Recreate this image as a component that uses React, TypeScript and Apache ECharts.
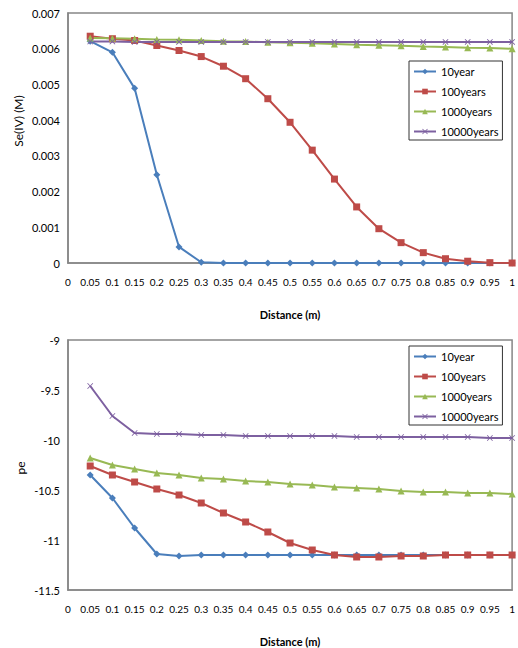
import React, { useEffect, useRef } from "react";
import * as echarts from "echarts";

const distances = [0.05, 0.1, 0.15, 0.2, 0.25, 0.3, 0.35, 0.4, 0.45, 0.5, 0.55, 0.6, 0.65, 0.7, 0.75, 0.8, 0.85, 0.9, 0.95, 1];
const seriesNames = ["10year", "100years", "1000years", "10000years"];

// Top chart: Se(IV) (M)
const se10 = [0.00621, 0.0059, 0.00489, 0.00247, 0.00045, 0.00002, 0, 0, 0, 0, 0, 0, 0, 0, 0, 0, 0, 0, 0, 0];
const se100 = [0.00635, 0.00628, 0.00623, 0.00609, 0.00595, 0.00578, 0.00551, 0.00516, 0.0046, 0.00394, 0.00316, 0.00235, 0.00157, 0.00096, 0.00057, 0.00029, 0.00012, 0.00005, 0.00001, 0];
const se1000 = [0.0063, 0.00629, 0.00628, 0.00626, 0.00625, 0.00623, 0.00621, 0.0062, 0.00618, 0.00617, 0.00615, 0.00613, 0.00611, 0.0061, 0.00608, 0.00606, 0.00605, 0.00603, 0.00602, 0.006];
const se10000 = [0.0062, 0.0062, 0.00619, 0.00619, 0.00619, 0.00619, 0.00619, 0.00619, 0.00619, 0.00619, 0.00619, 0.00619, 0.00619, 0.00619, 0.00619, 0.00619, 0.00619, 0.00619, 0.00619, 0.00619];

// Bottom chart: pe
const pe10 = [-10.35, -10.58, -10.88, -11.14, -11.16, -11.15, -11.15, -11.15, -11.15, -11.15, -11.15, -11.15, -11.15, -11.15, -11.15, -11.15, -11.15, -11.15, -11.15, -11.15];
const pe100 = [-10.26, -10.35, -10.42, -10.49, -10.55, -10.63, -10.73, -10.82, -10.92, -11.03, -11.1, -11.15, -11.17, -11.17, -11.16, -11.16, -11.15, -11.15, -11.15, -11.15];
const pe1000 = [-10.18, -10.25, -10.29, -10.33, -10.35, -10.38, -10.39, -10.41, -10.42, -10.44, -10.45, -10.47, -10.48, -10.49, -10.51, -10.52, -10.52, -10.53, -10.53, -10.54];
const pe10000 = [-9.46, -9.76, -9.93, -9.94, -9.94, -9.95, -9.95, -9.96, -9.96, -9.96, -9.96, -9.96, -9.97, -9.97, -9.97, -9.97, -9.97, -9.97, -9.98, -9.98];

const colors = ["#4A7EBB", "#BE4B48", "#98B954", "#7D60A0"];
const xMark = "path://M0,1L1,0L5,4L9,0L10,1L6,5L10,9L9,10L5,6L1,10L0,9L4,5Z";
const symbols = ["diamond", "rect", "triangle", xMark];
const symbolSizes = [7, 7, 7, 6];

const FONT = "Lato";

function pairs(vals: number[]) {
  return distances.map((d, i) => [d, vals[i]]);
}

export default function App() {
  const ref = useRef<HTMLDivElement>(null);
  useEffect(() => {
    if (!ref.current) return;
    const chart = echarts.init(ref.current, undefined, { renderer: "svg" });

    const mkSeries = (dataSets: number[][], gridIdx: number) =>
      dataSets.map((vals, i) => ({
        name: seriesNames[i],
        type: "line",
        xAxisIndex: gridIdx,
        yAxisIndex: gridIdx,
        data: pairs(vals),
        symbol: symbols[i],
        symbolSize: symbolSizes[i],
        showAllSymbol: true,
        lineStyle: { color: colors[i], width: 2 },
        itemStyle: { color: colors[i] },
      }));

    const xAxisCommon = {
      type: "value",
      min: 0,
      max: 1,
      interval: 0.05,
      splitLine: { show: false },
      axisTick: { show: false },
      axisLine: { show: true, onZero: false, lineStyle: { color: "#868686", width: 1.5 } },
      axisLabel: { color: "#000", fontSize: 10, fontFamily: FONT, margin: 14 },
      name: "Distance (m)",
      nameLocation: "middle",
      nameTextStyle: { color: "#000", fontSize: 11, fontWeight: "bold", fontFamily: FONT },
    };

    const legendCommon = {
      orient: "vertical",
      left: 409,
      borderColor: "#333",
      borderWidth: 1,
      padding: [5, 4, 3, 4],
      itemWidth: 22,
      itemHeight: 7,
      itemGap: 9,
      textStyle: { color: "#000", fontSize: 11, fontFamily: FONT },
      data: seriesNames,
    };

    chart.setOption({
      animation: false,
      backgroundColor: "#fff",
      grid: [
        { left: 68, top: 13, width: 445, height: 250, show: true, borderColor: "#868686", borderWidth: 1.5, backgroundColor: "transparent" },
        { left: 68, top: 340, width: 445, height: 252, show: true, borderColor: "#868686", borderWidth: 1.5, backgroundColor: "transparent" },
      ],
      xAxis: [
        { ...xAxisCommon, gridIndex: 0, nameGap: 46 },
        { ...xAxisCommon, gridIndex: 1, nameGap: 46 },
      ],
      yAxis: [
        {
          type: "value",
          gridIndex: 0,
          min: 0,
          max: 0.007,
          interval: 0.001,
          splitLine: { show: false },
          axisTick: { show: false },
          axisLine: { show: true, lineStyle: { color: "#868686", width: 1.5 } },
          axisLabel: { color: "#000", fontSize: 11, fontFamily: FONT, margin: 8 },
        },
        {
          type: "value",
          gridIndex: 1,
          min: -11.5,
          max: -9,
          interval: 0.5,
          splitLine: { show: false },
          axisTick: { show: false },
          axisLine: { show: true, onZero: false, lineStyle: { color: "#868686", width: 1.5 } },
          axisLabel: { color: "#000", fontSize: 11, fontFamily: FONT, margin: 8 },
        },
      ],
      legend: [
        { ...legendCommon, top: 61 },
        { ...legendCommon, top: 346 },
      ],
      graphic: [
        {
          type: "text",
          x: 18,
          y: 121,
          rotation: Math.PI / 2,
          style: { text: "Se(IV) (M)", fill: "#000", font: `12px ${FONT}`, align: "center", verticalAlign: "middle" },
        },
        {
          type: "text",
          x: 20,
          y: 468,
          rotation: Math.PI / 2,
          style: { text: "pe", fill: "#000", font: `12px ${FONT}`, align: "center", verticalAlign: "middle" },
        },
      ],
      series: [
        ...mkSeries([se10, se100, se1000, se10000], 0),
        ...mkSeries([pe10, pe100, pe1000, pe10000], 1),
      ],
    });
    return () => chart.dispose();
  }, []);

  return (
    <div
      ref={ref}
      style={{ position: "absolute", left: 0, top: 0, width: 518, height: 648 }}
    />
  );
}
